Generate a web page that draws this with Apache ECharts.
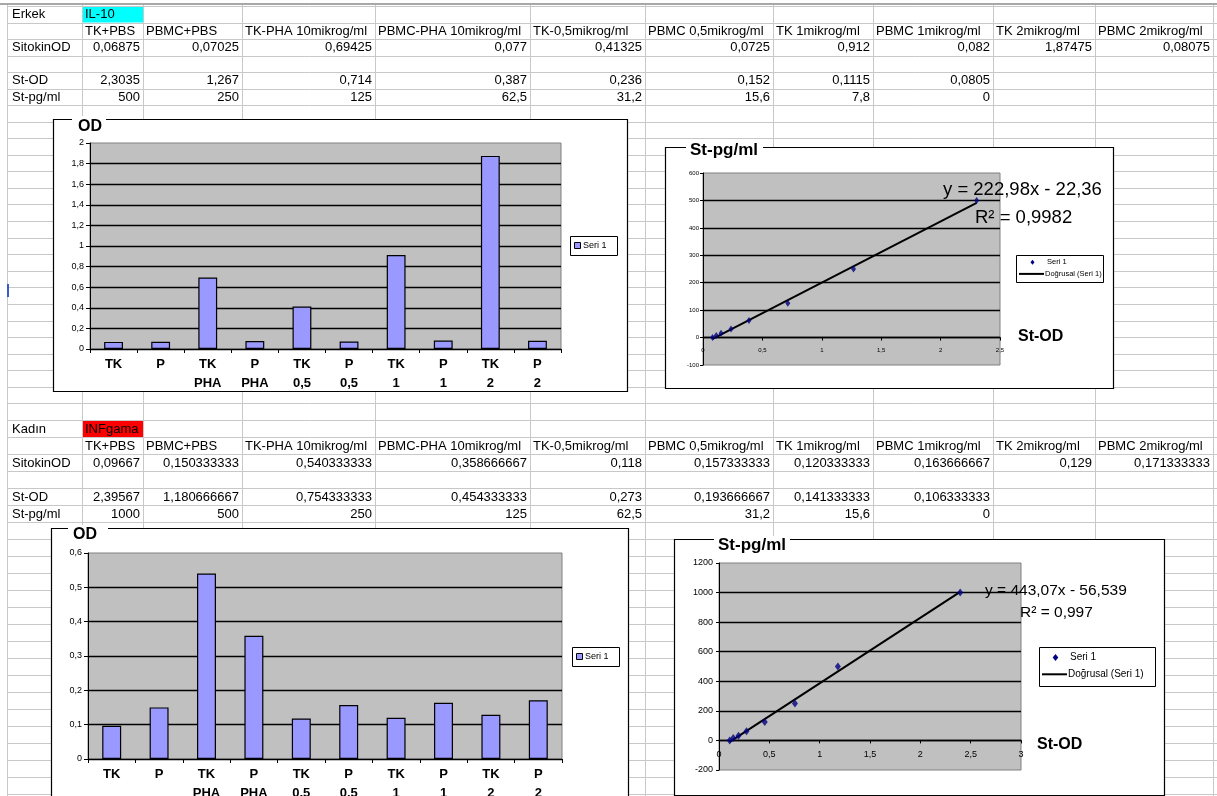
<!DOCTYPE html>
<html>
<head>
<meta charset="utf-8">
<script src="https://cdn.jsdelivr.net/npm/echarts@6/dist/echarts.min.js"></script>
<style>
html,body{margin:0;padding:0;background:#fff;}
#c{width:1217px;height:796px;}
</style>
</head>
<body>
<div id="c"></div>
<script>
// ---- sheet data ----
const headers = ['TK+PBS', 'PBMC+PBS', 'TK-PHA 10mikrog/ml', 'PBMC-PHA 10mikrog/ml', 'TK-0,5mikrog/ml',
  'PBMC 0,5mikrog/ml', 'TK 1mikrog/ml', 'PBMC 1mikrog/ml', 'TK 2mikrog/ml', 'PBMC 2mikrog/ml'];
const rowLabels = ['SitokinOD', 'St-OD', 'St-pg/ml'];

const erkekSitokinOD = [0.06875, 0.07025, 0.69425, 0.077, 0.41325, 0.0725, 0.912, 0.082, 1.87475, 0.08075];
const erkekStOD = [2.3035, 1.267, 0.714, 0.387, 0.236, 0.152, 0.1115, 0.0805];
const erkekStPg = [500, 250, 125, 62.5, 31.2, 15.6, 7.8, 0];

const kadinSitokinOD = [0.09667, 0.150333333, 0.540333333, 0.358666667, 0.118, 0.157333333, 0.120333333, 0.163666667, 0.129, 0.171333333];
const kadinStOD = [2.39567, 1.180666667, 0.754333333, 0.454333333, 0.273, 0.193666667, 0.141333333, 0.106333333];
const kadinStPg = [1000, 500, 250, 125, 62.5, 31.2, 15.6, 0];

const barCategories = ['TK', 'P', 'TK\nPHA', 'P\nPHA', 'TK\n0,5', 'P\n0,5', 'TK\n1', 'P\n1', 'TK\n2', 'P\n2'];

// linear trend lines (Doğrusal) as reported on the charts
const erkekTrend = { slope: 222.98, intercept: -22.36, r2: '0,9982' };
const kadinTrend = { slope: 443.07, intercept: -56.539, r2: '0,997' };

// axis ranges
const erkekBarAxis = { min: 0, max: 2, interval: 0.2 };
const kadinBarAxis = { min: 0, max: 0.6, interval: 0.1 };
const erkekStdX = { min: 0, max: 2.5, interval: 0.5 };
const erkekStdY = { min: -100, max: 600, interval: 100 };
const kadinStdX = { min: 0, max: 3, interval: 0.5 };
const kadinStdY = { min: -200, max: 1200, interval: 200 };

// ---- helpers ----
const FONT = '"Liberation Sans", Arial, sans-serif';
const fmt = v => String(v).replace('.', ',');
const G = [];
function line(x1, y1, x2, y2, stroke, w, z) {
  G.push({ type: 'line', silent: true, z: z, shape: { x1, y1, x2, y2 }, style: { stroke: stroke, lineWidth: w } });
}
function rect(x, y, w, h, style, z) {
  G.push({ type: 'rect', silent: true, z: z, shape: { x: x, y: y, width: w, height: h }, style: style });
}
function text(x, y, t, font, align, z) {
  G.push({ type: 'text', silent: true, z: z, x: x, y: y,
    style: { text: t, font: font, fill: '#000', align: align, textAlign: align,
      verticalAlign: 'middle', textVerticalAlign: 'middle' } });
}

// ---- worksheet grid ----
const cols = [7, 82, 143, 242, 375, 530, 645, 773, 873, 993, 1095, 1213];
const rows = [];
for (let i = 0; i <= 6; i++) rows.push(6 + i * 16.5);
for (let i = 1; i <= 19; i++) rows.push(105 + i * (420 - 105) / 19);
for (let y = 437; y <= 800; y += 17) rows.push(y);

rows.forEach(y => line(7, Math.round(y) + 0.5, 1217, Math.round(y) + 0.5, '#c8c8c8', 1, -20));
cols.forEach(x => line(x + 0.5, 5, x + 0.5, 796, '#c8c8c8', 1, -20));
line(0, 4, 1217, 4, '#a8a8a8', 2, -19);
line(8, 284, 8, 297, '#3a5bc7', 2, -19);

function sheetBlock(top, step, title, tag, tagColor, sitokin, stOD, stPg) {
  const cy = r => top + step * r + step / 2 + 0.5;
  rect(cols[1] + 1, Math.round(top) + 1, cols[2] - cols[1] - 1, step - 1, { fill: tagColor }, -19);
  const F = '13px ' + FONT;
  text(cols[0] + 5, cy(0), title, F, 'left', -18);
  text(cols[1] + 3, cy(0), tag, F, 'left', -18);
  headers.forEach((h, i) => text(cols[i + 1] + 3, cy(1), h, F, 'left', -18));
  text(cols[0] + 5, cy(2), rowLabels[0], F, 'left', -18);
  sitokin.forEach((v, i) => text(cols[i + 2] - 3, cy(2), fmt(v), F, 'right', -18));
  text(cols[0] + 5, cy(4), rowLabels[1], F, 'left', -18);
  stOD.forEach((v, i) => text(cols[i + 2] - 3, cy(4), fmt(v), F, 'right', -18));
  text(cols[0] + 5, cy(5), rowLabels[2], F, 'left', -18);
  stPg.forEach((v, i) => text(cols[i + 2] - 3, cy(5), fmt(v), F, 'right', -18));
}
sheetBlock(6, 16.5, 'Erkek', 'IL-10', '#00ffff', erkekSitokinOD, erkekStOD, erkekStPg);
sheetBlock(420, 17, 'Kadın', 'INFgama', '#ff0000', kadinSitokinOD, kadinStOD, kadinStPg);

// ---- chart frames ----
function frame(x, y, w, h, title, tx, ty, gap0, gap1, fontSize) {
  rect(x + 0.5, y + 0.5, w, h, { fill: '#fff', stroke: '#000', lineWidth: 1.2 }, -10);
  rect(gap0, y - 3, gap1 - gap0, 6, { fill: '#fff' }, 5);
  G.push({ type: 'text', silent: true, z: 6, x: tx, y: ty,
    style: { text: title, font: 'bold ' + fontSize + 'px ' + FONT, fill: '#000',
      align: 'left', textAlign: 'left', verticalAlign: 'middle', textVerticalAlign: 'middle' } });
}
frame(53, 119, 574, 272, 'OD', 78, 127, 72, 106, 16);
frame(665, 147, 448, 241, 'St-pg/ml', 690, 150, 686, 763, 17);
frame(51, 528, 577, 290, 'OD', 73, 535, 68, 108, 16);
frame(674, 539, 490, 256, 'St-pg/ml', 718, 545, 714, 790, 17);

// ---- legends ----
function barLegend(x, y) {
  rect(x + 0.5, y + 0.5, 47, 19, { fill: '#fff', stroke: '#000', lineWidth: 1 }, 20);
  rect(x + 4.5, y + 6.5, 6, 6, { fill: '#9999ff', stroke: '#000', lineWidth: 1 }, 21);
  text(x + 13, y + 10, 'Seri 1', '9px ' + FONT, 'left', 21);
}
barLegend(570, 236);
barLegend(572, 647);

function stdLegend(x, y, w, h, fs, mk, lineLen) {
  rect(x + 0.5, y + 0.5, w, h, { fill: '#fff', stroke: '#000', lineWidth: 1 }, 20);
  const r1 = y + h * 0.27, r2 = y + h * 0.7;
  const mx = x + 3 + lineLen / 2 + 1;
  G.push({ type: 'polygon', silent: true, z: 21,
    shape: { points: [[mx, r1 - mk], [mx + mk * 0.8, r1], [mx, r1 + mk], [mx - mk * 0.8, r1]] },
    style: { fill: '#000080' } });
  text(x + 6 + lineLen, r1, 'Seri 1', fs + 'px ' + FONT, 'left', 21);
  line(x + 3, r2, x + 3 + lineLen, r2, '#000', 2, 21);
  text(x + 4 + lineLen, r2, 'Doğrusal (Seri 1)', fs + 'px ' + FONT, 'left', 21);
}
stdLegend(1016, 255, 87, 27, 7.5, 2.5, 25);
stdLegend(1039, 647, 116, 39, 10, 3.5, 25);

// ---- trend equations ----
function equation(t, x1, y1, x2, y2, fs) {
  text(x1, y1, 'y = ' + fmt(t.slope) + 'x - ' + fmt(-t.intercept), fs + 'px ' + FONT, 'left', 30);
  text(x2, y2, 'R² = ' + t.r2, fs + 'px ' + FONT, 'left', 30);
}
equation(erkekTrend, 943, 190, 975, 218, 18.5);
equation(kadinTrend, 985, 591, 1020, 613, 15.5);

text(1018, 337, 'St-OD', 'bold 16px ' + FONT, 'left', 30);
text(1037, 745, 'St-OD', 'bold 16px ' + FONT, 'left', 30);

// ---- chart axes/series ----
const gridBase = { show: true, backgroundColor: '#c0c0c0', borderColor: '#808080', borderWidth: 1, outerBoundsMode: 'none', containLabel: false };
const black = { color: '#000', width: 1 };

function barX(idx) {
  return { type: 'category', gridIndex: idx, data: barCategories,
    axisLine: { show: true, lineStyle: black },
    axisTick: { show: true, length: 4, lineStyle: black },
    axisLabel: { interval: 0, color: '#000', fontFamily: FONT, fontWeight: 'bold', fontSize: 13, lineHeight: 19, margin: 6 } };
}
function barY(idx, r) {
  return { type: 'value', gridIndex: idx, min: r.min, max: r.max, interval: r.interval,
    axisLine: { show: true, lineStyle: black },
    axisTick: { show: true, length: 4, lineStyle: black },
    axisLabel: { color: '#000', fontFamily: FONT, fontSize: 9, margin: 6, formatter: fmt },
    splitLine: { show: true, showMaxLine: false, lineStyle: { color: '#000', width: 1.3 } } };
}
// the category (x) axis of a standard curve sits on y = 0, shifted up from the plot bottom
function stdX(idx, r, yr, gridHeight, fs, margin) {
  const shift = gridHeight * (0 - yr.min) / (yr.max - yr.min);
  return { type: 'value', gridIndex: idx, min: r.min, max: r.max, interval: r.interval,
    position: 'bottom', offset: -shift,
    axisLine: { show: true, onZero: false, lineStyle: { color: '#000', width: 1.3 } },
    axisTick: { show: true, length: 3, lineStyle: black },
    axisLabel: { color: '#000', fontFamily: FONT, fontSize: fs, margin: margin, formatter: fmt, showMinLabel: true, showMaxLabel: true },
    splitLine: { show: false } };
}
function stdY(idx, r, fs, margin) {
  return { type: 'value', gridIndex: idx, min: r.min, max: r.max, interval: r.interval,
    axisLine: { show: true, onZero: false, lineStyle: black },
    axisTick: { show: true, length: 3, lineStyle: black },
    axisLabel: { color: '#000', fontFamily: FONT, fontSize: fs, margin: margin, formatter: fmt },
    splitLine: { show: true, showMinLine: false, showMaxLine: false, lineStyle: { color: '#000', width: 1.3 } } };
}
function trendLine(xs, t) {
  const lo = Math.min(...xs), hi = Math.max(...xs);
  return [[lo, t.slope * lo + t.intercept], [hi, t.slope * hi + t.intercept]];
}
const pairs = (xs, ys) => xs.map((x, i) => [x, ys[i]]);

const barStyle = { color: '#9999ff', borderColor: '#000', borderWidth: 1.2 };

const grids = [
  { left: 90, top: 143, width: 471, height: 206 },
  { left: 703, top: 173, width: 297, height: 192 },
  { left: 88, top: 553, width: 474, height: 206 },
  { left: 719, top: 563, width: 302, height: 207 }
];

const option = {
  backgroundColor: '#fff',
  animation: false,
  graphic: { elements: G },
  grid: grids.map(g => Object.assign({}, g, gridBase)),
  xAxis: [barX(0), stdX(1, erkekStdX, erkekStdY, grids[1].height, 6, 10), barX(2), stdX(3, kadinStdX, kadinStdY, grids[3].height, 9, 10)],
  yAxis: [barY(0, erkekBarAxis), stdY(1, erkekStdY, 6, 4), barY(2, kadinBarAxis), stdY(3, kadinStdY, 9, 6)],
  series: [
    { name: 'Seri 1', type: 'bar', xAxisIndex: 0, yAxisIndex: 0, data: erkekSitokinOD, barWidth: '40%', itemStyle: barStyle, z: 3 },
    { name: 'Seri 1', type: 'bar', xAxisIndex: 2, yAxisIndex: 2, data: kadinSitokinOD, barWidth: '40%', itemStyle: barStyle, z: 3 },
    { name: 'Doğrusal (Seri 1)', type: 'line', xAxisIndex: 1, yAxisIndex: 1, data: trendLine(erkekStOD, erkekTrend),
      showSymbol: false, lineStyle: { color: '#000', width: 2 }, z: 3 },
    { name: 'Seri 1', type: 'scatter', xAxisIndex: 1, yAxisIndex: 1, data: pairs(erkekStOD, erkekStPg),
      symbol: 'diamond', symbolSize: [5, 7], itemStyle: { color: '#000080' }, z: 4 },
    { name: 'Doğrusal (Seri 1)', type: 'line', xAxisIndex: 3, yAxisIndex: 3, data: trendLine(kadinStOD, kadinTrend),
      showSymbol: false, lineStyle: { color: '#000', width: 2 }, z: 3 },
    { name: 'Seri 1', type: 'scatter', xAxisIndex: 3, yAxisIndex: 3, data: pairs(kadinStOD, kadinStPg),
      symbol: 'diamond', symbolSize: [6, 8], itemStyle: { color: '#000080' }, z: 4 }
  ]
};

const chart = echarts.init(document.getElementById('c'), null, { renderer: 'canvas' });
chart.setOption(option);
</script>
</body>
</html>
